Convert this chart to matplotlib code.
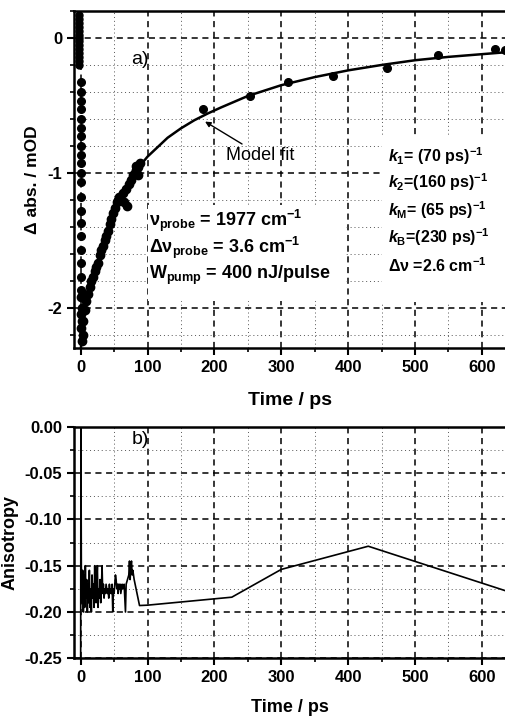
import numpy as np
import matplotlib
matplotlib.use("Agg")
import matplotlib.pyplot as plt
from matplotlib.ticker import MultipleLocator, FormatStrFormatter
from matplotlib.patches import Rectangle

plt.rcParams['font.family'] = ['Liberation Sans', 'DejaVu Sans']
plt.rcParams['font.weight'] = 'bold'
plt.rcParams['axes.labelweight'] = 'bold'
plt.rcParams['mathtext.fontset'] = 'custom'
plt.rcParams['mathtext.rm'] = 'Liberation Sans:bold'
plt.rcParams['mathtext.bf'] = 'Liberation Sans:bold'
plt.rcParams['mathtext.it'] = 'Liberation Sans:bold:italic'
plt.rcParams['mathtext.default'] = 'rm'

# panel a) measured points (time / ps, delta abs / mOD)
t_early = [-2] * 14
y_early = [0.17, 0.14, 0.11, 0.08, 0.05, 0.02, 0.0, -0.02, -0.05, -0.08,
           -0.11, -0.14, -0.17, -0.20]
t_col = [1] * 20
y_col = [-0.33, -0.40, -0.47, -0.53, -0.60, -0.67, -0.73, -0.80, -0.87, -0.93,
         -1.00, -1.07, -1.18, -1.28, -1.37, -1.47, -1.57, -1.67, -1.77, -1.87]
t_decay = [1, 2, 1, 2, 1, 3, 2, 4, 6, 8.5, 11, 13.5, 16, 18.5, 21, 23, 26, 28.5,
           31, 33.5, 36, 38, 41, 44, 46, 48, 51, 54, 56, 58, 60, 63, 65, 68,
           70, 73, 76, 79, 81, 82, 83, 85, 86, 88]
y_decay = [-1.92, -2.0, -2.05, -2.1, -2.15, -2.2, -2.25, -2.1, -2.02, -1.95,
           -1.9, -1.85, -1.8, -1.77, -1.73, -1.7, -1.67, -1.61, -1.57, -1.54,
           -1.5, -1.47, -1.43, -1.38, -1.34, -1.30, -1.26, -1.22, -1.2, -1.18,
           -1.2, -1.15, -1.22, -1.12, -1.25, -1.08, -1.05, -1.02, -1.0, -0.95,
           -0.98, -1.02, -0.96, -0.93]
t_late = [183, 253, 310, 378, 458, 535, 620, 635]
y_late = [-0.526, -0.427, -0.33, -0.285, -0.223, -0.129, -0.08, -0.087]

# model fit curve
t_fit = [0, 5, 10, 20, 30, 40, 50, 60, 70, 80, 90, 100, 115, 130, 150, 170,
         190, 210, 250, 300, 350, 400, 450, 500, 550, 600, 650]
y_fit = [-2.32, -2.05, -1.9, -1.75, -1.58, -1.44, -1.30, -1.18, -1.09, -1.01,
         -0.94, -0.88, -0.81, -0.74, -0.67, -0.61, -0.56, -0.515, -0.43, -0.35,
         -0.29, -0.24, -0.20, -0.165, -0.14, -0.12, -0.10]

# panel b) anisotropy
t_aniso = [0, 0.4, 1, 2, 3, 4, 5, 6, 7, 8, 9, 10, 11, 12, 13, 14, 15, 16, 17,
           18, 19, 20, 21, 22, 23, 24, 25, 26, 27, 28, 29, 30, 31, 32, 33, 34,
           35, 36, 37, 38, 40, 41, 42, 43, 44, 45, 46, 47, 48, 49, 50, 52, 53,
           54, 55, 56, 57, 58, 59, 60, 62, 63, 65, 67, 68, 70, 72, 73, 74, 75,
           76, 77, 78, 80, 88, 100, 226, 300, 430, 650]
r_aniso = [-0.25, 0.0, -0.15, -0.19, -0.155, -0.20, -0.16, -0.195, -0.15,
           -0.185, -0.165, -0.20, -0.17, -0.19, -0.155, -0.195, -0.175, -0.20,
           -0.16, -0.185, -0.17, -0.195, -0.15, -0.18, -0.19, -0.17, -0.15,
           -0.195, -0.175, -0.185, -0.165, -0.19, -0.175, -0.15, -0.18, -0.17,
           -0.185, -0.175, -0.18, -0.17, -0.18, -0.175, -0.185, -0.17, -0.18,
           -0.175, -0.18, -0.17, -0.20, -0.175, -0.18, -0.16, -0.165, -0.175,
           -0.17, -0.18, -0.17, -0.175, -0.17, -0.18, -0.17, -0.175, -0.17,
           -0.20, -0.17, -0.165, -0.16, -0.145, -0.165, -0.15, -0.145, -0.16,
           -0.155, -0.165, -0.193, -0.1926, -0.184, -0.154, -0.129, -0.1805]

fig = plt.figure(figsize=(5.06, 7.17), dpi=100)
ax1 = fig.add_axes([0.1462, 0.5146, 0.8538, 0.4700])
ax2 = fig.add_axes([0.1462, 0.0818, 0.8538, 0.3231])


def style(ax):
    ax.xaxis.set_major_locator(MultipleLocator(100))
    ax.xaxis.set_minor_locator(MultipleLocator(50))
    ax.grid(which='major', color='black', linestyle=(0, (4, 3)), linewidth=1.1)
    ax.grid(which='minor', color='#555555', linestyle=(0, (1, 3)), linewidth=0.7)
    ax.set_axisbelow(True)
    ax.spines['right'].set_visible(False)
    for s in ['left', 'bottom', 'top']:
        ax.spines[s].set_linewidth(1.8)
    ax.tick_params(which='major', direction='out', length=5, width=1.5,
                   labelsize=12)
    ax.tick_params(which='minor', direction='out', length=3, width=1.2)
    ax.set_xlim(-10, 636)


style(ax1)
ax1.set_ylim(-2.3, 0.2)
ax1.yaxis.set_major_locator(MultipleLocator(1))
ax1.yaxis.set_minor_locator(MultipleLocator(0.2))
ax1.plot(t_fit, y_fit, color='black', linewidth=1.8, zorder=3)
ax1.plot(t_early, y_early, 'o', color='black', markersize=5, zorder=4)
ax1.plot(t_col, y_col, 'o', color='black', markersize=5.5, zorder=4)
ax1.plot(t_decay, y_decay, 'o', color='black', markersize=6, zorder=4)
ax1.plot(t_late, y_late, 'o', color='black', markersize=5.5, zorder=4)
ax1.set_yticks([0, -1, -2])
ax1.set_yticklabels(['0', '-1', '-2'])
ax1.set_xlabel('Time / ps', fontsize=14, labelpad=12, fontweight='bold')
ax1.set_ylabel('\u0394 abs. / mOD', fontsize=12.5, fontweight='bold')
ax1.yaxis.set_label_coords(-0.079, 0.5)

# white boxes behind the text blocks (they hide the grid)
ax1.add_patch(Rectangle((100, -1.95), 295, 0.71, facecolor='white',
                        edgecolor='none', zorder=1.5))
ax1.add_patch(Rectangle((450, -1.96), 200, 1.23, facecolor='white',
                        edgecolor='none', zorder=1.5))

ax1.text(76, -0.16, 'a)', fontsize=14, fontweight='normal', va='center')
ax1.annotate('Model fit', xy=(186, -0.62), xytext=(218, -0.87),
             fontsize=13, fontweight='normal', va='center',
             arrowprops=dict(arrowstyle='-|>', color='black', lw=1.0,
                             shrinkA=0, shrinkB=0, mutation_scale=8))

fs = 13
ax1.text(102, -1.36, r'$\nu_{\mathregular{probe}}$ = 1977 cm$^{-1}$', fontsize=fs, va='center', zorder=5)
ax1.text(102, -1.56, r'$\Delta\nu_{\mathregular{probe}}$ = 3.6 cm$^{-1}$', fontsize=fs, va='center', zorder=5)
ax1.text(102, -1.76, r'W$_{\mathregular{pump}}$ = 400 nJ/pulse', fontsize=fs, va='center', zorder=5)

kx = 460
fk = 11.5
ax1.text(kx, -0.88, r'$\mathit{k}_{1}$= (70 ps)$^{-1}$', fontsize=fk, va='center', zorder=5)
ax1.text(kx, -1.07, r'$\mathit{k}_{2}$=(160 ps)$^{-1}$', fontsize=fk, va='center', zorder=5)
ax1.text(kx, -1.28, r'$\mathit{k}_{\mathregular{M}}$= (65 ps)$^{-1}$', fontsize=fk, va='center', zorder=5)
ax1.text(kx, -1.48, r'$\mathit{k}_{\mathregular{B}}$=(230 ps)$^{-1}$', fontsize=fk, va='center', zorder=5)
ax1.text(kx, -1.69, r'$\Delta\nu$ =2.6 cm$^{-1}$', fontsize=fk, va='center', zorder=5)

style(ax2)
ax2.set_ylim(-0.25, 0.0)
ax2.yaxis.set_major_locator(MultipleLocator(0.05))
ax2.yaxis.set_minor_locator(MultipleLocator(0.025))
ax2.plot(t_aniso, r_aniso, color='black', linewidth=1.2)
ax2.yaxis.set_major_formatter(FormatStrFormatter('%.2f'))
ax2.set_xlabel('Time / ps', fontsize=13, labelpad=10, fontweight='bold')
ax2.set_ylabel('Anisotropy', fontsize=13, fontweight='bold')
ax2.yaxis.set_label_coords(-0.128, 0.5)
ax2.text(76, -0.0143, 'b)', fontsize=14, fontweight='normal', va='center')

for ax in (ax1, ax2):
    for lab in ax.get_xticklabels() + ax.get_yticklabels():
        lab.set_fontweight('bold')

fig.savefig('out.png', dpi=100)
